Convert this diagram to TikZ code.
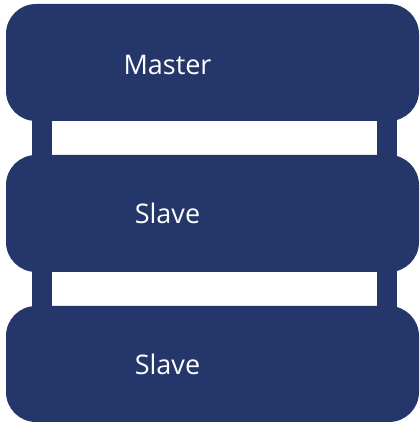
\documentclass[tikz,border=0pt]{standalone}
\usepackage{fontspec}
\setmainfont{Open Sans}
\usepackage{tikz}
\usetikzlibrary{positioning, calc, backgrounds}
\definecolor{mynavy}{RGB}{36,54,106}
\tikzset{
  unit/.style={rectangle, fill=mynavy, minimum width=413pt, minimum height=117pt, rounded corners=30pt, inner sep=0pt},
  unitlabel/.style={text=white, font=\fontsize{27}{32}\selectfont, xshift=-45pt},
  bar/.style={mynavy, line width=20pt}
}
\begin{document}
\begin{tikzpicture}[x=1pt, y=1pt]
  \useasboundingbox (0,0) rectangle (420,423);
  % Boxes
  \node[unit, label={[unitlabel, yshift=-2pt]center:Master}] (master) at (212.5,360.5) {};
  \node[unit, label={[unitlabel]center:Slave}] (slave1) at (212.5,209.5) {};
  \node[unit, minimum height=116pt, label={[unitlabel]center:Slave}] (slave2) at (212.5,59) {};

  % Links (behind the boxes)
  \begin{scope}[on background layer]
    \draw[bar] ([xshift=36pt]master.west) -- ([xshift=36pt]slave1.west);
    \draw[bar] ([xshift=-32pt]master.east) -- ([xshift=-32pt]slave1.east);
    \draw[bar] ([xshift=36pt]slave1.west) -- ([xshift=36pt]slave2.west);
    \draw[bar] ([xshift=-32pt]slave1.east) -- ([xshift=-32pt]slave2.east);
  \end{scope}
\end{tikzpicture}
\end{document}
